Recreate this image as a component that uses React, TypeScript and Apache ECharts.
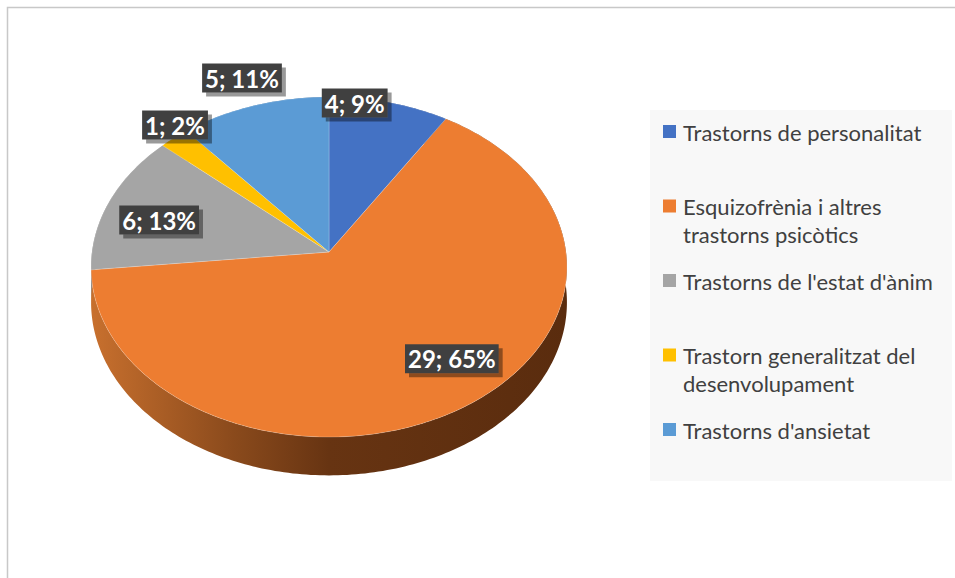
import React, { useEffect, useRef } from "react";
import * as echarts from "echarts";

const categories = [
  "Trastorns de personalitat",
  "Esquizofrènia i altres trastorns psicòtics",
  "Trastorns de l'estat d'ànim",
  "Trastorn generalitzat del desenvolupament",
  "Trastorns d'ansietat",
];
const values = [4, 29, 6, 1, 5];
const percentLabels = ["9%", "65%", "13%", "2%", "11%"];
const colors = ["#4472C4", "#ED7D31", "#A5A5A5", "#FFC000", "#5B9BD5"];
const sideColors = [
  ["#3a62a8", "#2a4a80"],
  ["#c8702e", "#5a2c0e"],
  ["#8e8e8e", "#6a6a6a"],
  ["#d9a400", "#a67d00"],
  ["#4e86b8", "#3a6690"],
];

// layout (label placement relative to slice mid angle)
const labelAngleShift = [-9, -7.3, -3.2, 3.2, 0.4];
const labelRadius = [0.965, 0.775, 0.754, 1.065, 1.204];

const CX = 329, CY = 252, RX = 237, RY = 168.7, PERSP = 0.0882, DEPTH = 35;

const total = values.reduce((a, b) => a + b, 0);
const startAngles: number[] = [];
const endAngles: number[] = [];
{
  let acc = 0;
  values.forEach((v) => {
    startAngles.push((acc / total) * 360);
    acc += v;
    endAngles.push((acc / total) * 360);
  });
}

function project(deg: number, r: number, drop: number): number[] {
  const t = (deg * Math.PI) / 180;
  const u = r * Math.sin(t);
  const v = -r * Math.cos(t);
  const s = 1 / (1 - PERSP * v);
  return [CX + RX * u * s, CY + RY * v * s + drop * s];
}

function arcPoints(a0: number, a1: number, drop: number): number[][] {
  const pts: number[][] = [];
  const n = Math.max(2, Math.ceil(Math.abs(a1 - a0)));
  for (let k = 0; k <= n; k++) {
    pts.push(project(a0 + ((a1 - a0) * k) / n, 1, drop));
  }
  return pts;
}

function wrap(text: string, max: number): string {
  const words = text.split(" ");
  const lines: string[] = [];
  let cur = "";
  words.forEach((w) => {
    const next = cur ? cur + " " + w : w;
    if (next.length > max && cur) {
      lines.push(cur);
      cur = w;
    } else cur = next;
  });
  if (cur) lines.push(cur);
  return lines.join("\n");
}

export default function App() {
  const ref = useRef<HTMLDivElement>(null);
  useEffect(() => {
    if (!ref.current) return;
    const chart = echarts.init(ref.current, undefined, { renderer: "svg" });
    const seriesData = values.map((v, i) => ({ name: categories[i], value: [v, i] }));

    const legendEls: any[] = [
      {
        type: "rect",
        shape: { x: 650, y: 110, width: 302, height: 371 },
        style: { fill: "#f8f8f8" },
        silent: true,
      },
    ];
    categories.forEach((c, i) => {
      const ly = 132 + i * 74.5;
      legendEls.push({
        type: "rect",
        shape: { x: 663, y: ly - 7, width: 13, height: 13 },
        style: { fill: colors[i] },
      });
      legendEls.push({
        type: "text",
        x: 683,
        y: ly - 14,
        style: {
          text: wrap(c, 27),
          font: "22px Lato",
          fill: "#404040",
          lineHeight: 28,
          verticalAlign: "top",
          align: "left",
        },
      });
    });

    chart.setOption({
      animation: false,
      backgroundColor: "#ffffff",
      graphic: [
        {
          type: "polyline",
          shape: { points: [[7.5, 578], [7.5, 7.5], [955, 7.5]] },
          style: { stroke: "#c8c8c8", lineWidth: 1.5, fill: "none" },
          silent: true,
        },
        ...legendEls,
      ],
      series: [
        {
          type: "custom",
          coordinateSystem: "none",
          z: 1,
          data: seriesData,
          renderItem: (params: any) => {
            const i = params.dataIndex;
            const a0 = startAngles[i], a1 = endAngles[i];
            const top = arcPoints(a0, a1, 0);
            const bot = arcPoints(a0, a1, DEPTH).reverse();
            return {
              type: "polygon",
              shape: { points: top.concat(bot) },
              style: {
                fill: new echarts.graphic.LinearGradient(
                  91, 0, 567, 0,
                  [
                    { offset: 0, color: sideColors[i][0] },
                    { offset: 0.3, color: i === 1 ? "#8a4a1c" : sideColors[i][0] },
                    { offset: 0.5, color: i === 1 ? "#673412" : sideColors[i][1] },
                    { offset: 1, color: sideColors[i][1] },
                  ],
                  true
                ),
              },
            };
          },
        },
        {
          type: "custom",
          coordinateSystem: "none",
          z: 2,
          data: seriesData,
          renderItem: (params: any) => {
            const i = params.dataIndex;
            const pts = [[CX, CY]].concat(arcPoints(startAngles[i], endAngles[i], 0));
            return {
              type: "polygon",
              shape: { points: pts },
              style: { fill: colors[i], stroke: "rgba(255,255,255,0.35)", lineWidth: 0.6 },
            };
          },
        },
        {
          type: "custom",
          coordinateSystem: "none",
          z: 3,
          data: seriesData,
          renderItem: (params: any) => {
            const i = params.dataIndex;
            const mid = (startAngles[i] + endAngles[i]) / 2 + labelAngleShift[i];
            const p = project(mid, labelRadius[i], 0);
            return {
              type: "text",
              x: p[0],
              y: p[1],
              style: {
                text: `${values[i]}; ${percentLabels[i]}`,
                font: "bold 24px Lato",
                fill: "#ffffff",
                align: "center",
                verticalAlign: "middle",
                backgroundColor: "#404040",
                padding: [3, 3, 2, 3],
                shadowColor: "rgba(0,0,0,0.4)",
                shadowOffsetX: 4,
                shadowOffsetY: 4,
                shadowBlur: 1,
              },
            };
          },
        },
      ],
    });
    return () => chart.dispose();
  }, []);
  return (
    <div
      ref={ref}
      style={{ position: "fixed", left: 0, top: 0, width: 955, height: 578 }}
    />
  );
}
